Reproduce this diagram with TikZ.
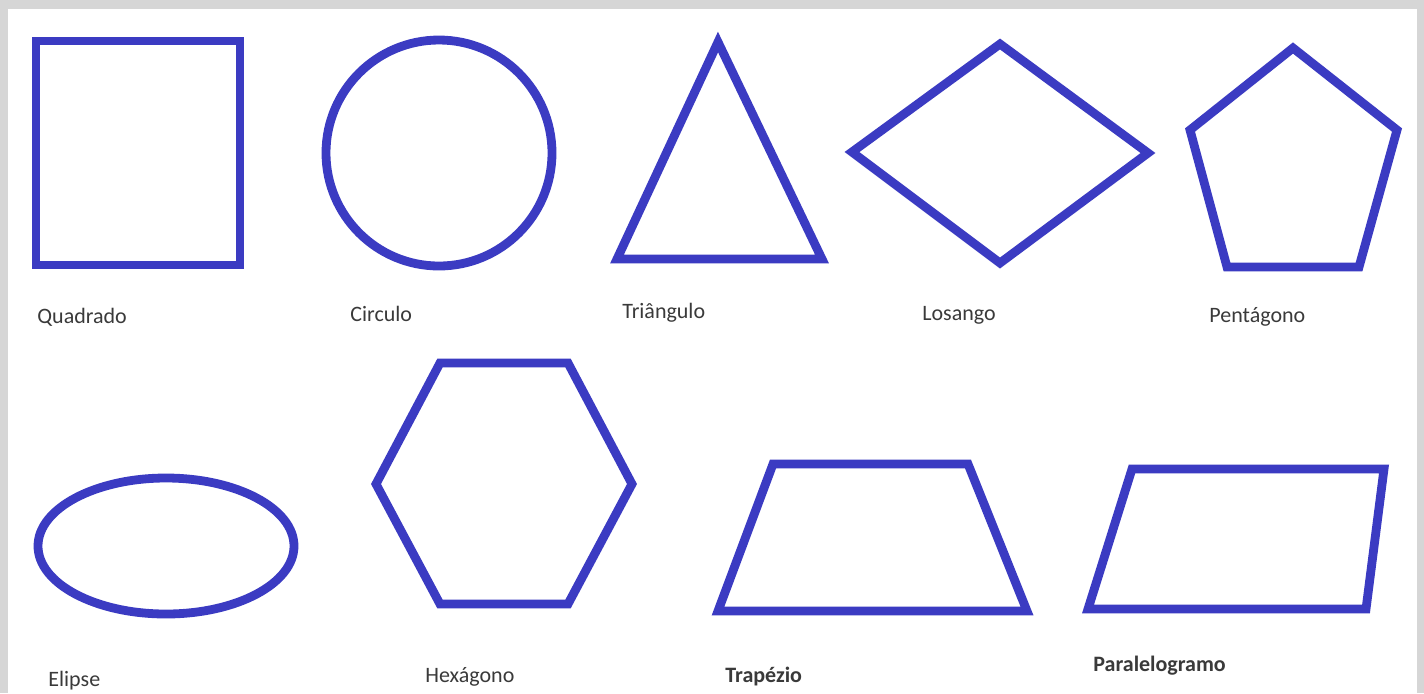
\documentclass[tikz,border=0pt]{standalone}
\usepackage{fontspec}
\setmainfont{Carlito}
\definecolor{shapeblue}{HTML}{3B3BC2}
\definecolor{frame}{HTML}{D6D6D6}
\definecolor{labelgray}{HTML}{3A3A3A}
\begin{document}
\begin{tikzpicture}[x=0.5pt,y=-0.5pt,
  shp/.style={draw=shapeblue,line width=4.4pt},
  lbl/.style={anchor=west,inner sep=0pt,text=labelgray,font=\fontsize{11}{13}\selectfont},
  blbl/.style={lbl,font=\fontsize{11}{13}\selectfont\bfseries}]
\fill[frame] (0,0) rectangle (1424,693);
\useasboundingbox (0,0) rectangle (1424,693);
\fill[white] (8,9) rectangle (1417,693);
% row 1
\draw[shp] (36,41) rectangle (240,265);
\draw[shp] (439,153) circle (113);
\draw[shp] (718,42) -- (822,259) -- (617,259) -- cycle;
\draw[shp] (852,152) -- (1000,44) -- (1148,153) -- (1000,263) -- cycle;
\draw[shp] (1293,48) -- (1397,130) -- (1359,267) -- (1227,267) -- (1190,130) -- cycle;
% row 2
\draw[shp] (166,546) ellipse (128 and 68);
\draw[shp] (440,363) -- (568,363) -- (632,484) -- (568,604) -- (440,604) -- (376,484) -- cycle;
\draw[shp] (773,464) -- (968,464) -- (1027,611) -- (718,611) -- cycle;
\draw[shp] (1132,469) -- (1384,469) -- (1366,609) -- (1088,609) -- cycle;
% labels
\node[lbl] (l1) at (37,317) {Quadrado};
\node[lbl] (l2) at (350,314) {Circulo};
\node[lbl] (l3) at (622,313) {Triângulo};
\node[lbl] (l4) at (922,315) {Losango};
\node[lbl] (l5) at (1209,317) {Pentágono};
\node[lbl] (l6) at (48,681) {Elipse};
\node[lbl] (l7) at (425,677) {Hexágono};
\node[blbl] (l8) at (725,676) {Trapézio};
\node[blbl] (l9) at (1093,666) {Paralelogramo};
\end{tikzpicture}
\end{document}
